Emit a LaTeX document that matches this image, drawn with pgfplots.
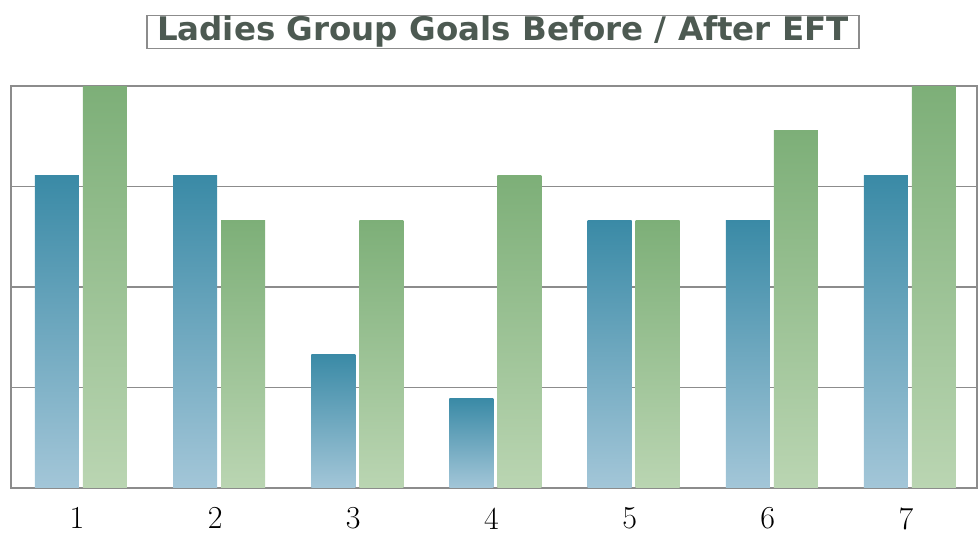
\documentclass[border=0pt]{standalone}
\usepackage{pgfplots}
\pgfplotsset{compat=1.18}
\usepackage{fontspec}
\newfontfamily\titlefont{DejaVu Sans}
\definecolor{titlecol}{HTML}{4D5A52}
\definecolor{gridcol}{HTML}{8C8C8C}
\definecolor{btop}{HTML}{3A8AA6}
\definecolor{bbot}{HTML}{A3C6D8}
\definecolor{gtop}{HTML}{7DAF78}
\definecolor{gbot}{HTML}{BAD5B2}
\pgfplotsset{
  bbar/.style={draw=none, top color=btop, bottom color=bbot, bar shift=-24pt, forget plot},
  gbar/.style={draw=none, top color=gtop, bottom color=gbot, bar shift=24pt, forget plot},
}
\begin{document}
\begin{tikzpicture}
\useasboundingbox (-11pt,-47pt) rectangle (969pt,488pt);
\begin{axis}[
  at={(0pt,0pt)}, anchor=south west,
  scale only axis,
  width=966pt, height=402pt,
  xmin=-0.5066, xmax=6.485,
  ymin=0, ymax=9,
  ybar, bar width=44pt,
  xtick={0,...,6},
  xticklabels={1,2,3,4,5,6,7},
  xtick style={draw=none},
  x tick label style={font=\fontsize{32}{34}\selectfont, xshift=-4pt, yshift=-12pt, text depth=0pt},
  ytick={2.25,4.5,6.75},
  yticklabels={},
  ytick style={draw=none},
  ymajorgrids,
  grid style={gridcol, line width=1.2pt},
  axis line style={gridcol, line width=1.4pt},
  clip=true,
]
% Before (blue)
\addplot[bbar] coordinates {(0,7)};
\addplot[bbar] coordinates {(1,7)};
\addplot[bbar] coordinates {(2,3)};
\addplot[bbar] coordinates {(3,2)};
\addplot[bbar] coordinates {(4,6)};
\addplot[bbar] coordinates {(5,6)};
\addplot[bbar] coordinates {(6,7)};
% After (green)
\addplot[gbar] coordinates {(0,9)};
\addplot[gbar] coordinates {(1,6)};
\addplot[gbar] coordinates {(2,6)};
\addplot[gbar] coordinates {(3,7)};
\addplot[gbar] coordinates {(4,6)};
\addplot[gbar] coordinates {(5,8)};
\addplot[gbar] coordinates {(6,9)};
\end{axis}
\node[draw=gridcol, line width=1.2pt, inner xsep=10pt, inner ysep=1pt,
      text=titlecol, font=\titlefont\bfseries\fontsize{32.5}{34}\selectfont]
  at (492pt,456pt) {Ladies Group Goals Before / After EFT};
\end{tikzpicture}
\end{document}
